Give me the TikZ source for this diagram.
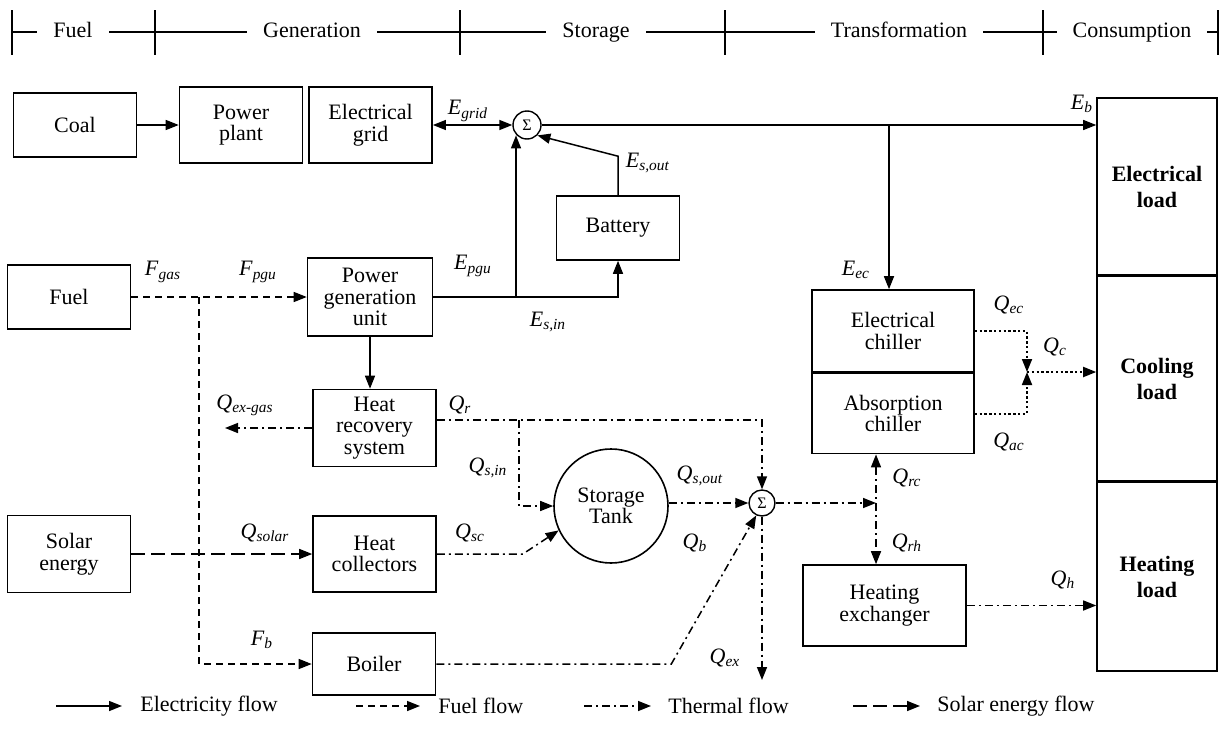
\documentclass[tikz,border=0pt]{standalone}
\usepackage{fontspec}
\setmainfont{Liberation Serif}
\usetikzlibrary{arrows.meta, positioning}

\newcommand{\fl}[2]{\textit{#1}\textsubscript{\textit{#2}}}

\begin{document}
\begin{tikzpicture}[x=0.5pt, y=-0.5pt,
    >={Triangle[length=6.5pt,width=5pt]},
    font=\fontsize{11}{10.8}\selectfont,
    blk/.style={draw, line width=0.8pt, align=center, inner sep=1pt,
      minimum width=61.5pt, minimum height=38pt},
    sumnode/.style={draw, circle, line width=0.7pt, minimum size=14pt,
      inner sep=0pt, font=\fontsize{8}{8}\selectfont},
    loadbox/.style={draw, line width=0.8pt, minimum width=60pt, align=center,
      font=\fontsize{11}{13}\selectfont\bfseries},
    head/.style={fill=white, inner xsep=8pt, inner ysep=1pt,
      text height=1.5ex, text depth=0.6ex},
    elec/.style={->, line width=0.75pt},
    fuelf/.style={->, line width=0.75pt, dash pattern=on 3.5pt off 2.5pt},
    therm/.style={->, line width=0.75pt, dash pattern=on 4pt off 2pt on 1pt off 2pt},
    solarf/.style={->, line width=0.75pt, dash pattern=on 7pt off 3pt},
    cool/.style={->, line width=0.9pt, dash pattern=on 1.2pt off 1.2pt},
    lab/.style={inner sep=0pt}
  ]
  \useasboundingbox (0,0) rectangle (1220,744);

  % stages
  \draw[line width=0.6pt] (12,32) -- (1218,32);
  \foreach \x in {12,155,460,725,1043,1218}
    \draw[line width=0.6pt] (\x,10) -- (\x,55);
  \node[head] (hfuel)  at (73,33)   {Fuel};
  \node[head] (hgen)   at (312,33)  {Generation};
  \node[head] (hstor)  at (596,33)  {Storage};
  \node[head] (htrans) at (899,33)  {Transformation};
  \node[head] (hcons)  at (1132,33) {Consumption};

  % blocks
  \node[blk, minimum height=32pt] (coal) at (75,125) {Coal};
  \node[blk] (plant) at (241,125) {Power\\plant};
  \node[blk, right=2.5pt of plant] (grid) {Electrical\\grid};
  \node[sumnode] (sum1) at (527,125) {Σ};
  \node[blk, minimum height=32pt] (battery) at (618,228) {Battery};
  \node[blk, minimum height=32pt] (fuel) at (69,297) {Fuel};
  \node[blk, minimum width=62.5pt, minimum height=39pt] (pgu) at (370,297) {Power\\generation\\unit};
  \node[blk, minimum height=38.5pt] (hr) at (374.5,428) {Heat\\recovery\\system};
  \node[blk, minimum height=38.5pt] (solar) at (69,554) {Solar\\energy};
  \node[blk] (hc) at (374.5,554) {Heat\\collectors};
  \node[blk, minimum height=31pt] (boiler) at (374,664) {Boiler};
  \node[draw, circle, line width=0.8pt, minimum size=57pt, inner sep=0pt,
    align=center] (tank) at (611,506) {Storage\\Tank};
  \node[sumnode, minimum size=13pt] (sum2) at (762,503) {Σ};
  \node[blk, minimum width=81pt, minimum height=41pt] (ec) at (893,331) {Electrical\\chiller};
  \node[blk, minimum width=81pt, minimum height=40pt, below=0pt of ec] (ac) {Absorption\\chiller};
  \node[blk, minimum width=81.5pt, minimum height=40.5pt] (hx) at (884.5,605.5) {Heating\\exchanger};
  \node[loadbox, minimum height=88.5pt] (eload) at (1157,186.5) {Electrical\\load};
  \node[loadbox, minimum height=102pt, below=0pt of eload] (cload) {Cooling\\load};
  \node[loadbox, minimum height=94.5pt, below=0pt of cload] (hload) {Heating\\load};

  % junctions
  \coordinate (jec) at (889,125);
  \coordinate (jp) at (516,297);
  \coordinate (jf) at (199,297);
  \coordinate (js) at (519,420);
  \coordinate (qexg) at (225,428);
  \coordinate (qex) at (762,680);
  \coordinate (jr) at (876,503);
  \coordinate (jc) at (1027,372);

  % electricity
  \draw[elec] (coal) -- (plant);
  \draw[elec, <->] (grid.east |- sum1) -- (sum1.west);
  \draw[elec] (sum1.east) -- (sum1 -| eload.west);
  \draw[elec] (jec) -- (jec |- ec.north);
  \draw[elec] (pgu.east) -| (battery.south);
  \draw[elec] (jp) -- (jp |- sum1.south west);
  \draw[elec] (battery.north) -- ++(0,-39) -- (sum1.south east);
  \draw[elec] (pgu.south) -- (pgu.south |- hr.north);

  % fuel
  \draw[fuelf] (fuel.east) -- (pgu.west);
  \draw[fuelf] (jf) |- (boiler.west);

  % solar
  \draw[solarf] (solar.east) -- (hc.west);

  % thermal
  \draw[therm] (hr.west) -- (qexg);
  \draw[therm] ([yshift=4pt]hr.east) -| (sum2.north);
  \draw[therm] (js) |- (tank.west);
  \draw[therm] (hc.east) -- ++(86,0) -- (tank.205);
  \draw[therm] (tank.east |- sum2) -- (sum2.west);
  \draw[therm] (boiler.east) -- ++(235,0) -- (sum2.245);
  \draw[therm] (sum2.south) -- (qex);
  \draw[therm] (sum2.east) -- (jr);
  \draw[therm, <->] (jr |- ac.south) -- (jr |- hx.north);
  \draw[therm] (hx.east) -- (hx.east -| hload.west);

  % cooling
  \draw[cool] (ec.east) -| (jc);
  \draw[cool] (ac.east) -| (jc);
  \draw[cool] (jc) -- (jc -| cload.west);

  % flow labels
  \node[lab] (lgrid)  at (468,111)  {\fl{E}{grid}};
  \node[lab] (lb)     at (1082,104) {\fl{E}{b}};
  \node[lab] (lec)    at (856,270)  {\fl{E}{ec}};
  \node[lab] (lsout)  at (648,163)  {\fl{E}{s,out}};
  \node[lab] (lpgu)   at (473,266)  {\fl{E}{pgu}};
  \node[lab] (lsin)   at (548,322)  {\fl{E}{s,in}};
  \node[lab] (lgas)   at (163,272)  {\fl{F}{gas}};
  \node[lab] (lfpgu)  at (258,272)  {\fl{F}{pgu}};
  \node[lab] (lfb)    at (262,640)  {\fl{F}{b}};
  \node[lab] (lexg)   at (245,405)  {\fl{Q}{ex-gas}};
  \node[lab] (lqr)    at (460,405)  {\fl{Q}{r}};
  \node[lab] (lqsin)  at (488,468)  {\fl{Q}{s,in}};
  \node[lab] (lsolar) at (265,533)  {\fl{Q}{solar}};
  \node[lab] (lsc)    at (470,533)  {\fl{Q}{sc}};
  \node[lab] (lqsout) at (700,476)  {\fl{Q}{s,out}};
  \node[lab] (lqb)    at (695,543)  {\fl{Q}{b}};
  \node[lab] (lqex)   at (725,658)  {\fl{Q}{ex}};
  \node[lab] (lqec)   at (1009,305) {\fl{Q}{ec}};
  \node[lab] (lqc)    at (1055,347) {\fl{Q}{c}};
  \node[lab] (lqac)   at (1009,442) {\fl{Q}{ac}};
  \node[lab] (lqrc)   at (907,478)  {\fl{Q}{rc}};
  \node[lab] (lqrh)   at (907,543)  {\fl{Q}{rh}};
  \node[lab] (lqh)    at (1063,580) {\fl{Q}{h}};

  % legend
  \node[lab, anchor=west] (lgelec)  at (140,706) {Electricity flow};
  \node[lab, anchor=west] (lgfuel)  at (438,706) {Fuel flow};
  \node[lab, anchor=west] (lgtherm) at (668,706) {Thermal flow};
  \node[lab, anchor=west] (lgsolar) at (937,706) {Solar energy flow};
  \draw[elec]   ([xshift=-42pt]lgelec.west)  -- ([xshift=-9pt]lgelec.west);
  \draw[fuelf]  ([xshift=-41pt]lgfuel.west)  -- ([xshift=-9pt]lgfuel.west);
  \draw[therm]  ([xshift=-42pt]lgtherm.west) -- ([xshift=-8.5pt]lgtherm.west);
  \draw[solarf] ([xshift=-42pt]lgsolar.west) -- ([xshift=-8.5pt]lgsolar.west);
\end{tikzpicture}
\end{document}
